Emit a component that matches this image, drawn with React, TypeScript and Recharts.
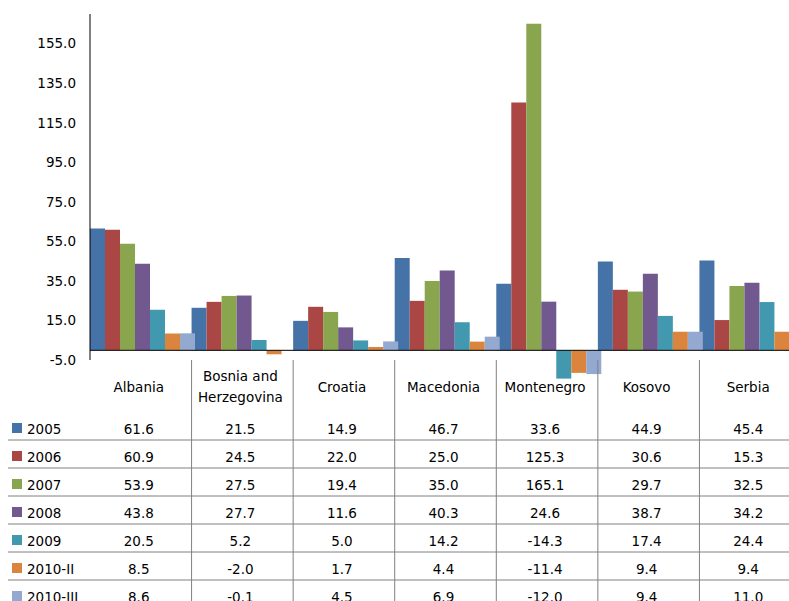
import { BarChart, Bar, XAxis, YAxis, ReferenceLine } from "recharts";

const countries = ["Albania", "Bosnia and Herzegovina", "Croatia", "Macedonia", "Montenegro", "Kosovo", "Serbia"];
const headerLines = [["Albania"], ["Bosnia and", "Herzegovina"], ["Croatia"], ["Macedonia"], ["Montenegro"], ["Kosovo"], ["Serbia"]];
const years = ["2005", "2006", "2007", "2008", "2009", "2010-II", "2010-III"];

const v2005 = [61.6, 21.5, 14.9, 46.7, 33.6, 44.9, 45.4];
const v2006 = [60.9, 24.5, 22.0, 25.0, 125.3, 30.6, 15.3];
const v2007 = [53.9, 27.5, 19.4, 35.0, 165.1, 29.7, 32.5];
const v2008 = [43.8, 27.7, 11.6, 40.3, 24.6, 38.7, 34.2];
const v2009 = [20.5, 5.2, 5.0, 14.2, -14.3, 17.4, 24.4];
const v2010q2 = [8.5, -2.0, 1.7, 4.4, -11.4, 9.4, 9.4];
const v2010q3 = [8.6, -0.1, 4.5, 6.9, -12.0, 9.4, 11.0];

const yTicks = [-5, 15, 35, 55, 75, 95, 115, 135, 155];
const colors = ["#4572A7", "#AA4643", "#89A54E", "#71588F", "#4198AF", "#DB843D", "#93A9CF"];

const seriesValues = [v2005, v2006, v2007, v2008, v2009, v2010q2, v2010q3];

const data = countries.map((name, i) => {
  const row: Record<string, string | number> = { name };
  years.forEach((yr, s) => {
    row[yr] = seriesValues[s][i];
  });
  return row;
});

const FONT = "'DejaVu Sans', sans-serif";
const PLOT_W = 711;
const BAND = PLOT_W / countries.length;
const GRID = "#808080";

// data table drawn under each category, aligned with the x scale
function TableTick(props: any) {
  const { x, y, payload } = props;
  const i = countries.indexOf(payload.value);
  const left = x - BAND / 2;
  const right = x + BAND / 2;
  const lines = headerLines[i];
  const headBase = lines.length === 1 ? [12] : [1, 22];

  return (
    <g fontFamily={FONT} fontSize={13.5} fill="#000">
      {i > 0 && <line x1={left} x2={left} y1={y - 20} y2={y + 240} stroke={GRID} strokeWidth={1} />}
      {lines.map((t, k) => (
        <text key={k} x={x - 2} y={y + headBase[k]} textAnchor="middle" fill="#000">
          {t}
        </text>
      ))}
      {years.map((yr, r) => (
        <g key={yr}>
          <text x={x - 2} y={y + 54 + 28 * r} textAnchor="middle" fill="#000">
            {seriesValues[r][i].toFixed(1)}
          </text>
          <line
            x1={i === 0 ? 8 : left}
            x2={right}
            y1={y + 60 + 28 * r}
            y2={y + 60 + 28 * r}
            stroke={GRID}
            strokeWidth={1}
          />
          {i === 0 && (
            <g>
              <rect x={12} y={y + 43 + 28 * r} width={10} height={10} fill={colors[r]} />
              <text x={27} y={y + 54 + 28 * r} fill="#000">
                {yr}
              </text>
            </g>
          )}
        </g>
      ))}
    </g>
  );
}

export default function App() {
  return (
    <div
      style={{
        position: "fixed",
        left: 0,
        top: 0,
        width: 789,
        height: 601,
        overflow: "hidden",
        background: "#fff",
        fontFamily: FONT,
      }}
    >
      <BarChart
        width={805}
        height={601}
        data={data}
        margin={{ top: 14, right: 4, bottom: 0, left: 0 }}
        barCategoryGap={0}
        barGap={0}
      >
        <XAxis
          dataKey="name"
          height={221}
          interval={0}
          tickLine={false}
          axisLine={false}
          tickSize={0}
          tickMargin={0}
          tick={<TableTick />}
        />
        <YAxis
          width={90}
          domain={[-15, 170]}
          ticks={yTicks}
          interval={0}
          tickLine={false}
          tickSize={6}
          tickMargin={8}
          axisLine={{ stroke: "#000", strokeWidth: 1, strokeDasharray: "346 100" }}
          tick={{ fontSize: 13.5, fill: "#000", fontFamily: FONT }}
          tickFormatter={(v: number) => v.toFixed(1)}
        />
        {years.map((yr, s) => (
          <Bar key={yr} dataKey={yr} fill={colors[s]} isAnimationActive={false} />
        ))}
        <ReferenceLine y={0} stroke="#000" strokeWidth={1} />
      </BarChart>
    </div>
  );
}
